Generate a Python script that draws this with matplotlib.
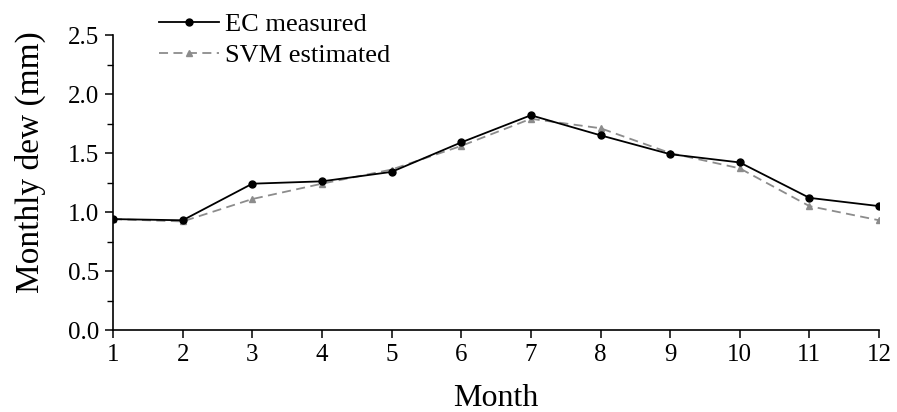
import numpy as np
import matplotlib.pyplot as plt
from matplotlib.ticker import MultipleLocator

plt.rcParams['font.family'] = ['Liberation Serif', 'DejaVu Serif']

# Monat
months = np.arange(1, 13)

# Tau-Werte (mm)
ec_measured = [0.94, 0.93, 1.24, 1.26, 1.34, 1.59, 1.82, 1.65, 1.49, 1.42, 1.12, 1.05]
svm_estimated = [0.94, 0.92, 1.11, 1.24, 1.36, 1.56, 1.79, 1.71, 1.50, 1.37, 1.05, 0.93]

fig = plt.figure(figsize=(8.97, 4.12), dpi=100)
ax = fig.add_axes([0.126, 0.199, 0.854, 0.716])

ax.plot(months, ec_measured, '-', color='black', lw=1.3, marker='o', ms=5,
        label='EC measured', zorder=3)
ax.plot(months, svm_estimated, '--', color='#8c8c8c', lw=1.3, marker='^', ms=5,
        dashes=(5, 3), label='SVM estimated', zorder=2)

ax.set_xlim(1, 12)
ax.set_ylim(0, 2.5)
ax.set_xticks(months)
ax.yaxis.set_major_locator(MultipleLocator(0.5))
ax.yaxis.set_minor_locator(MultipleLocator(0.25))
ax.yaxis.set_major_formatter(plt.FormatStrFormatter('%.1f'))

for s in ['top', 'right']:
    ax.spines[s].set_visible(False)
for s in ['left', 'bottom']:
    ax.spines[s].set_linewidth(1.2)

ax.tick_params(axis='both', which='major', direction='out', length=6, width=1.1,
               labelsize=18, pad=4)
ax.tick_params(axis='y', which='minor', direction='out', length=4, width=1.0)

ax.set_xlabel('Month', fontsize=23, labelpad=13)
ax.set_ylabel('Monthly dew (mm)', fontsize=24)
# Label etwas nach oben, wie im Original
ax.yaxis.set_label_coords(-0.087, 0.569)

fig.legend(loc='upper left', bbox_to_anchor=(0.165, 0.995), frameon=False,
           fontsize=19, handlelength=2.3, handletextpad=0.2, labelspacing=0.3,
           borderaxespad=0)

plt.savefig('out.png', dpi=100)
